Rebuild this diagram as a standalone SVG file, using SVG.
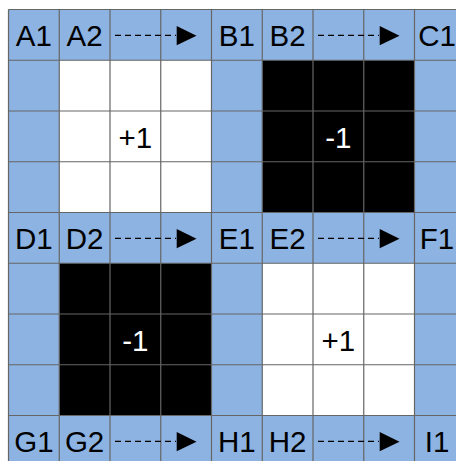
<svg xmlns="http://www.w3.org/2000/svg" width="456" height="461" viewBox="0 0 456 461">
  <defs>
    <style>
      .bg { fill: #8DB3E2; }
      .w { fill: #FFFFFF; }
      .k { fill: #000000; }
      .grid { stroke: #666666; stroke-width: 1.2; fill: none; }
      .lbl { font-family: "Liberation Sans", Arial, sans-serif; font-size: 29.5px; fill: #000; text-anchor: middle; }
      .val { font-family: "Liberation Sans", Arial, sans-serif; font-size: 29.5px; text-anchor: middle; }
      .dash { stroke: #000; stroke-width: 1.3; stroke-dasharray: 6 4; fill: none; }
      .head { fill: #000; }
    </style>
  </defs>
  <rect x="0" y="0" width="456" height="461" fill="#FFFFFF"/>
  <rect class="bg" x="8.5" y="9.5" width="460" height="460"/>

  <g id="block-A">
    <rect class="w" x="59.25" y="60.25" width="152.25" height="152.25"/>
    <text class="val" x="135.4" y="147.7" fill="#000">+1</text>
  </g>
  <g id="block-B">
    <rect class="k" x="262.25" y="60.25" width="152.25" height="152.25"/>
    <text class="val" x="338.4" y="147.7" fill="#FFF">-1</text>
  </g>
  <g id="block-D">
    <rect class="k" x="59.25" y="263.25" width="152.25" height="152.25"/>
    <text class="val" x="135.4" y="350.7" fill="#FFF">-1</text>
  </g>
  <g id="block-E">
    <rect class="w" x="262.25" y="263.25" width="152.25" height="152.25"/>
    <text class="val" x="338.4" y="350.7" fill="#000">+1</text>
  </g>

  <g id="grid" class="grid">
    <path d="M8.5 9.5V470 M59.25 9.5V470 M110 9.5V470 M160.75 9.5V470 M211.5 9.5V470 M262.25 9.5V470 M313 9.5V470 M363.75 9.5V470 M414.5 9.5V470"/>
    <path d="M8.5 9.5H470 M8.5 60.25H470 M8.5 111H470 M8.5 161.75H470 M8.5 212.5H470 M8.5 263.25H470 M8.5 314H470 M8.5 364.75H470 M8.5 415.5H470"/>
  </g>

  <g id="labels">
    <g id="A1"><text class="lbl" x="33.9" y="45.7">A1</text></g>
    <g id="A2"><text class="lbl" x="84.6" y="45.7">A2</text></g>
    <g id="B1"><text class="lbl" x="236.9" y="45.7">B1</text></g>
    <g id="B2"><text class="lbl" x="287.6" y="45.7">B2</text></g>
    <g id="C1"><text class="lbl" x="437" y="45.7">C1</text></g>
    <g id="D1"><text class="lbl" x="33.9" y="248.7">D1</text></g>
    <g id="D2"><text class="lbl" x="84.6" y="248.7">D2</text></g>
    <g id="E1"><text class="lbl" x="236.9" y="248.7">E1</text></g>
    <g id="E2"><text class="lbl" x="287.6" y="248.7">E2</text></g>
    <g id="F1"><text class="lbl" x="437" y="248.7">F1</text></g>
    <g id="G1"><text class="lbl" x="33.9" y="451.7">G1</text></g>
    <g id="G2"><text class="lbl" x="84.6" y="451.7">G2</text></g>
    <g id="H1"><text class="lbl" x="236.9" y="451.7">H1</text></g>
    <g id="H2"><text class="lbl" x="287.6" y="451.7">H2</text></g>
    <g id="I1"><text class="lbl" x="437" y="451.7">I1</text></g>
  </g>

  <g id="connectors">
    <path class="dash" d="M115 35.3H176"/>
    <polygon class="head" points="176.7,26 196.5,35.7 176.7,45.3"/>
    <path class="dash" d="M318 35.3H379"/>
    <polygon class="head" points="379.7,26 399.5,35.7 379.7,45.3"/>
    <path class="dash" d="M115 238.3H176"/>
    <polygon class="head" points="176.7,229 196.5,238.7 176.7,248.3"/>
    <path class="dash" d="M318 238.3H379"/>
    <polygon class="head" points="379.7,229 399.5,238.7 379.7,248.3"/>
    <path class="dash" d="M115 441.3H176"/>
    <polygon class="head" points="176.7,432 196.5,441.7 176.7,451.3"/>
    <path class="dash" d="M318 441.3H379"/>
    <polygon class="head" points="379.7,432 399.5,441.7 379.7,451.3"/>
  </g>
</svg>
